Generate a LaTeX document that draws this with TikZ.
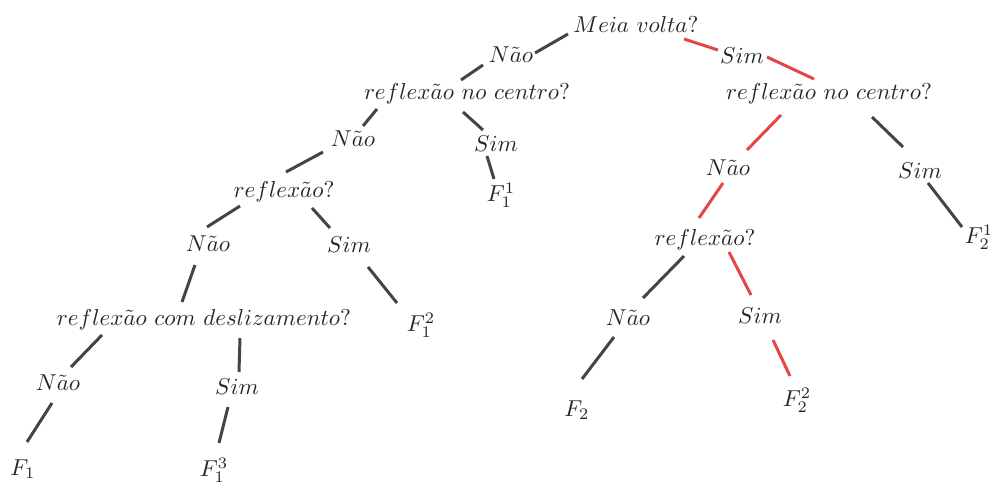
\documentclass[tikz,border=0pt]{standalone}
\usetikzlibrary{calc}
\definecolor{edgegray}{RGB}{68,68,68}
\definecolor{edgered}{RGB}{226,70,70}
\begin{document}
\begin{tikzpicture}[x=0.4348pt,y=-0.4348pt,
  lbl/.style={inner sep=0pt,anchor=center,text=black!85},
  ed/.style={draw=edgegray,line width=1.3pt},
  er/.style={draw=edgered,line width=1.3pt}]
\useasboundingbox (0,0) rectangle (992,482);
% nodes
\node[lbl] (mv) at (636,25) {$Meia\ volta?$};
\node[lbl] (n1) at (511,55) {$N\tilde{a}o$};
\node[lbl] (s1) at (742,56) {$Sim$};
\node[lbl] (rcL) at (467,94) {$reflex\tilde{a}o\ no\ centro?$};
\node[lbl] (rcR) at (829,94) {$reflex\tilde{a}o\ no\ centro?$};
\node[lbl] (n2) at (353,139) {$N\tilde{a}o$};
\node[lbl] (s2) at (496,144) {$Sim$};
\node[lbl] (f11) at (501,195) {$F_1^1$};
\node[lbl] (rL) at (284,192) {$reflex\tilde{a}o?$};
\node[lbl] (n3) at (208,244) {$N\tilde{a}o$};
\node[lbl] (s3) at (349,245) {$Sim$};
\node[lbl] (f12) at (421,325) {$F_1^2$};
\node[lbl] (rd) at (204,320) {$reflex\tilde{a}o\ com\ deslizamento?$};
\node[lbl] (n4) at (58,383) {$N\tilde{a}o$};
\node[lbl] (s4) at (237,387) {$Sim$};
\node[lbl] (f1) at (23,469) {$F_1$};
\node[lbl] (f13) at (214,470) {$F_1^3$};
\node[lbl] (nR) at (728,168) {$N\tilde{a}o$};
\node[lbl] (sR) at (920,171) {$Sim$};
\node[lbl] (f21) at (979,237) {$F_2^1$};
\node[lbl] (rR) at (705,240) {$reflex\tilde{a}o?$};
\node[lbl] (nRL) at (628,318) {$N\tilde{a}o$};
\node[lbl] (sRL) at (760,316) {$Sim$};
\node[lbl] (f2) at (577,410) {$F_2$};
\node[lbl] (f22) at (797,400) {$F_2^2$};
% edges
\draw[ed] ($(mv)+(-68,9)$) -- ($(n1)+(24,-2)$);
\draw[er] ($(mv)+(48,14)$) -- ($(s1)+(-24,-6)$);
\draw[er] ($(s1)+(25,1)$) -- ($(rcR)+(-15,-15)$);
\draw[ed] ($(n1)+(-28,10)$) -- ($(rcL)+(-6,-14)$);
\draw[ed] ($(rcL)+(-90,15)$) -- ($(n2)+(10,-13)$);
\draw[ed] ($(rcL)+(-4,18)$) -- ($(s2)+(-13,-14)$);
\draw[ed] ($(s2)+(-9,12)$) -- ($(f11)+(-7,-16)$);
\draw[ed] ($(n2)+(-30,13)$) -- ($(rL)+(2,-20)$);
\draw[ed] ($(rL)+(-44,14)$) -- ($(n3)+(-1,-17)$);
\draw[ed] ($(rL)+(28,16)$) -- ($(s3)+(-19,-17)$);
\draw[ed] ($(n3)+(-13,21)$) -- ($(rd)+(-22,-18)$);
\draw[ed] ($(s3)+(19,22)$) -- ($(f12)+(-24,-22)$);
\draw[ed] ($(rd)+(-102,15)$) -- ($(n4)+(13,-16)$);
\draw[ed] ($(rd)+(36,18)$) -- ($(s4)+(2,-15)$);
\draw[ed] ($(n4)+(-6,20)$) -- ($(f1)+(4,-27)$);
\draw[ed] ($(s4)+(-9,20)$) -- ($(f13)+(5,-27)$);
\draw[er] ($(rcR)+(-48,21)$) -- ($(nR)+(19,-18)$);
\draw[ed] ($(rcR)+(43,23)$) -- ($(sR)+(-17,-24)$);
\draw[ed] ($(sR)+(8,12)$) -- ($(f21)+(-17,-10)$);
\draw[er] ($(nR)+(-5,15)$) -- ($(rR)+(-6,-22)$);
\draw[ed] ($(rR)+(-21,16)$) -- ($(nRL)+(15,-20)$);
\draw[er] ($(rR)+(24,12)$) -- ($(sRL)+(-9,-21)$);
\draw[er] ($(sRL)+(13,24)$) -- ($(f22)+(-7,-24)$);
\draw[ed] ($(nRL)+(-14,19)$) -- ($(f2)+(5,-31)$);
\end{tikzpicture}
\end{document}
